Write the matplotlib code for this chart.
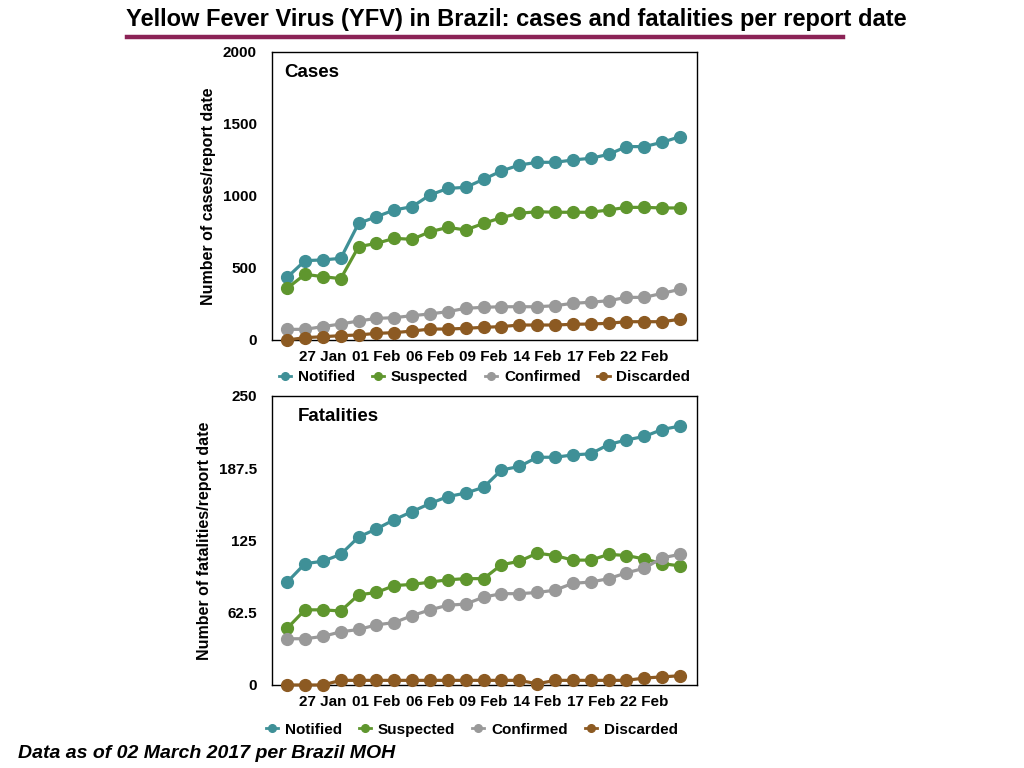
import matplotlib
matplotlib.use('Agg')
import matplotlib.pyplot as plt
from matplotlib.lines import Line2D

plt.rcParams['font.family'] = ['Liberation Sans', 'DejaVu Sans']

# report dates (one point per report); only every third date is labelled
dates = ['21 Jan', '24 Jan', '27 Jan', '28 Jan', '31 Jan', '01 Feb', '02 Feb', '03 Feb',
         '06 Feb', '07 Feb', '08 Feb', '09 Feb', '10 Feb', '13 Feb', '14 Feb', '15 Feb',
         '16 Feb', '17 Feb', '20 Feb', '21 Feb', '22 Feb', '23 Feb', '24 Feb']
shown_labels = ['27 Jan', '01 Feb', '06 Feb', '09 Feb', '14 Feb', '17 Feb', '22 Feb']

series_names = ['Notified', 'Suspected', 'Confirmed', 'Discarded']
series_colors = ['#3f9097', '#5f962e', '#999999', '#8c5a22']

cases_notified = [435, 551, 556, 567, 810, 856, 903, 926, 1007, 1053, 1060, 1116,
                  1174, 1215, 1234, 1234, 1250, 1262, 1289, 1343, 1343, 1373, 1412]
cases_suspected = [359, 456, 440, 426, 648, 671, 706, 699, 752, 782, 764, 810,
                   850, 880, 891, 887, 887, 887, 903, 921, 921, 917, 917]
cases_confirmed = [74, 74, 93, 111, 132, 150, 155, 169, 181, 197, 220, 227,
                   231, 231, 231, 238, 255, 262, 273, 296, 296, 324, 352]
cases_discarded = [0, 16, 23, 30, 35, 46, 51, 62, 76, 76, 81, 88,
                   93, 104, 104, 104, 109, 111, 116, 127, 127, 127, 144]

deaths_notified = [89, 105, 107, 113, 128, 135, 143, 150, 157, 163, 166, 171,
                   186, 189, 197, 197, 199, 200, 208, 212, 215, 221, 224]
deaths_suspected = [49, 65, 65, 64, 78, 80, 86, 87, 89, 91, 92, 92,
                    104, 107, 114, 112, 108, 108, 113, 112, 109, 105, 103]
deaths_confirmed = [40, 40, 42, 46, 48, 52, 54, 60, 65, 69, 70, 76,
                    79, 79, 80, 82, 88, 89, 92, 97, 101, 110, 113]
deaths_discarded = [0, 0, 0, 4, 4, 4, 4, 4, 4, 4, 4, 4,
                    4, 4, 1, 4, 4, 4, 4, 4, 6, 7, 8]

fig = plt.figure(figsize=(10.24, 7.68), dpi=100)
fig.patch.set_facecolor('white')


def draw_panel(ax, data, yticks, ytick_labels, ylabel, panel_title, title_x, leg_x, leg_y):
    x = list(range(len(dates)))
    for vals, name, color in zip(data, series_names, series_colors):
        ax.plot(x, vals, color=color, linewidth=2.3, marker='o', markersize=8.5,
                label=name, clip_on=False, zorder=3)

    ax.set_xlim(-0.85, 22.95)
    ax.set_ylim(yticks[0], yticks[-1])
    ax.set_yticks(yticks)
    ax.set_yticklabels(ytick_labels, fontsize=11, fontweight='bold')
    tick_pos = [dates.index(d) for d in shown_labels]
    ax.set_xticks(tick_pos)
    ax.set_xticklabels(shown_labels, fontsize=11, fontweight='bold')
    ax.tick_params(axis='both', length=0)
    ax.tick_params(axis='y', pad=11)
    ax.tick_params(axis='x', pad=7)
    for sp in ax.spines.values():
        sp.set_linewidth(1.0)
        sp.set_color('black')
    ax.set_ylabel(ylabel, fontsize=11.5, fontweight='bold', labelpad=5)
    ax.text(title_x, 0.96, panel_title, transform=ax.transAxes, fontsize=13.5,
            fontweight='bold', va='top', ha='left')

    handles = [Line2D([0], [0], color=c, marker='o', markersize=5.5, linewidth=2)
               for c in series_colors]
    ax.legend(handles, series_names, loc='center', bbox_to_anchor=(leg_x, leg_y),
              ncol=4, frameon=False, handlelength=0.8, handletextpad=0.45,
              columnspacing=1.1, prop={'weight': 'bold', 'size': 11})


ax1 = fig.add_axes([0.2656, 0.5573, 0.4151, 0.3750])
draw_panel(ax1, [cases_notified, cases_suspected, cases_confirmed, cases_discarded],
           [0, 500, 1000, 1500, 2000], ['0', '500', '1000', '1500', '2000'],
           'Number of cases/report date', 'Cases', 0.03, 0.50, -0.13)

ax2 = fig.add_axes([0.2656, 0.1081, 0.4151, 0.3763])
draw_panel(ax2, [deaths_notified, deaths_suspected, deaths_confirmed, deaths_discarded],
           [0, 62.5, 125, 187.5, 250], ['0', '62.5', '125', '187.5', '250'],
           'Number of fatalities/report date', 'Fatalities', 0.06, 0.47, -0.155)

fig.text(0.504, 0.975, 'Yellow Fever Virus (YFV) in Brazil: cases and fatalities per report date',
         ha='center', va='center', fontsize=17, fontweight='bold')
fig.add_artist(Line2D([127 / 1024, 843 / 1024], [1 - 37 / 768, 1 - 37 / 768],
                      color='#8b2356', linewidth=3.2))

fig.text(0.018, 0.019, 'Data as of 02 March 2017 per Brazil MOH', ha='left', va='center',
         fontsize=14, fontweight='bold', style='italic')

fig.savefig('out.png', dpi=100, facecolor='white')
